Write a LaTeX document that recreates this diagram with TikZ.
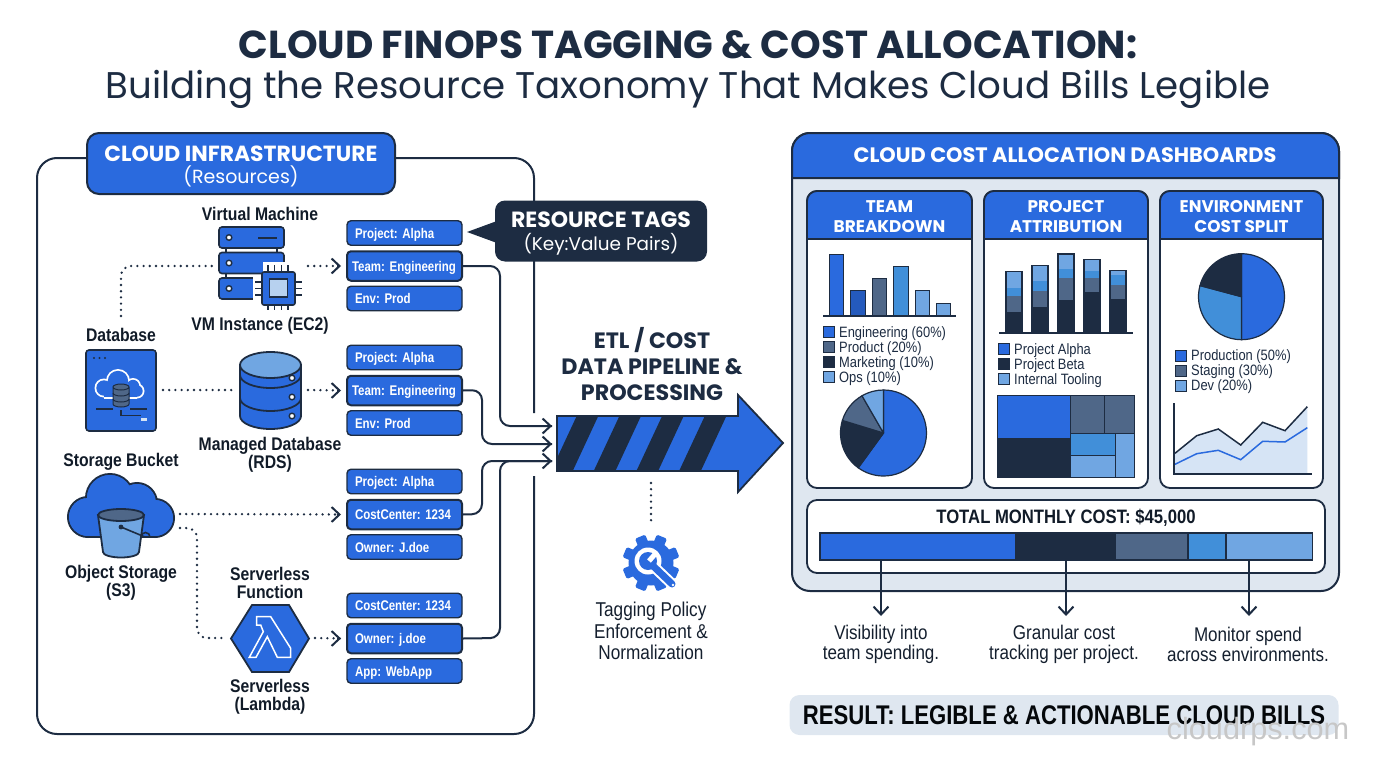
\documentclass[tikz,border=0pt]{standalone}
\usepackage{fontspec}
\usetikzlibrary{arrows.meta,calc}
\setmainfont{Liberation Sans}
\newfontfamily\headfont{Poppins}
\newfontfamily\condfont[FakeStretch=0.86]{Liberation Sans}
\newfontfamily\narrowfont[FakeStretch=0.82]{Liberation Sans}
\newcommand{\fs}[1]{\fontsize{#1}{#1}\selectfont}
\frenchspacing
\definecolor{finblue}{HTML}{2A6ADE}
\definecolor{finnavy}{HTML}{1D2C42}
\definecolor{finslate}{HTML}{4F6788}
\definecolor{finmid}{HTML}{418FD9}
\definecolor{finlight}{HTML}{70A6E2}
\definecolor{finpale}{HTML}{D6E4F5}
\definecolor{finpanel}{HTML}{DFE7F0}
\tikzset{
  tagbox/.style={draw=finnavy,line width=1.4pt,fill=finblue,rounded corners=4pt,text=white,minimum height=24.5pt,
    text width=99pt,inner xsep=8pt,inner ysep=0pt,align=left,text height=10pt,text depth=0pt,font=\narrowfont\bfseries\fs{14}},
  tagmain/.style={tagbox,line width=2pt,minimum height=29.5pt},
  iconlabel/.style={inner sep=0pt,align=center,font=\condfont\bfseries\fs{18.3},text=finnavy!60!black,text depth=0pt},
  bodytext/.style={inner sep=0pt,align=center,font=\condfont\fs{20},text=finnavy!70!black},
  notetext/.style={bodytext,font=\condfont\fs{19.8}},
  legendtext/.style={inner sep=0pt,anchor=west,text height=10.5pt,text depth=0pt,font=\condfont\fs{15},text=finnavy},
  cardhead/.style={inner sep=0pt,align=center,text=white,font=\headfont\bfseries\fs{16.9}},
  dotline/.style={draw=finnavy,line width=2.6pt,line cap=round,dash pattern=on 0pt off 6.2pt},
  dotarrow/.style={dotline,shorten >=6pt},
  chevron/.style={draw=finnavy,line width=2pt},
  flowline/.style={draw=finnavy,line width=2pt,rounded corners=10pt},
  swatch/.style={draw=finnavy,line width=1pt}
}
\begin{document}
\begin{tikzpicture}[x=1pt,y=-1pt]
\useasboundingbox (0,0) rectangle (1376,768);
%Title
\node[inner sep=0pt,text=finnavy,font=\headfont\bfseries\fs{39}] (title) at (688,44.5) {CLOUD FINOPS TAGGING \& COST ALLOCATION:};
\node[inner sep=0pt,text=finnavy,font=\headfont\fs{37.15}] (subtitle) at (688,89) {Building the Resource Taxonomy That Makes Cloud Bills Legible};

%Left panel
\draw[draw=finnavy,line width=2pt,rounded corners=20pt] (534,413) -- (534,158) -- (37,158) -- (37,734) -- (534,734) -- (534,476);
\node[draw=finnavy,line width=2pt,fill=finblue,rounded corners=12pt,minimum width=308pt,minimum height=61pt,inner sep=0pt] (infra) at (241,163.5) {};
\node[inner sep=0pt,text=white,align=center] (infratext) at (241,166.5)
  {{\headfont\bfseries\fs{21.9}CLOUD INFRASTRUCTURE}\\[4pt]{\headfont\fs{19}(Resources)}};

%Tags
\foreach \n/\y/\a/\b/\c in {1/233/Project: Alpha/\mbox{\hspace{-3pt}Team: Engineering}/Env: Prod,2/357.5/Project: Alpha/\mbox{\hspace{-3pt}Team: Engineering}/Env: Prod,
  3/481.5/Project: Alpha/CostCenter: 1234/Owner: J.doe,4/605.5/CostCenter: 1234/Owner: j.doe/App: WebApp}{
  \node[tagbox] (tag\n a) at (404.5,\y) {\a};
  \node[tagmain] (tag\n b) at (404.5,\y+33) {\b};
  \node[tagbox] (tag\n c) at (404.5,\y+65.5) {\c};
}

%Callout
\fill[finnavy] (467,232) -- (497,221) -- (497,243) -- cycle;
\node[fill=finnavy,rounded corners=10pt,minimum width=212pt,minimum height=61pt,inner sep=0pt] (restags) at (601,231) {};
\node[inner sep=0pt,text=white,align=center] (restext) at (601,233.5)
  {{\headfont\bfseries\fs{22}RESOURCE TAGS}\\[4pt]{\headfont\fs{18.4}(Key:Value Pairs)}};

%Virtual machine
\foreach \y in {227,252.5,278}{
  \draw[draw=finnavy,line width=1.6pt,fill=finblue,rounded corners=3pt] (219,\y) rectangle (284,\y+21);
  \draw[draw=finnavy,line width=1.4pt,fill=white] (229,\y+10.5) circle (2.8);
}
\draw[draw=finnavy,line width=1.5pt] (226,248) -- (226,252.5) (277,248) -- (277,252.5) (226,273.5) -- (226,278);
\draw[draw=finnavy,line width=1.6pt] (258,238) -- (277,238);
\fill[white] (263,262) -- (304,262) -- (304,312) -- (253,312) -- (253,276) -- (263,276) -- cycle;
\foreach \d in {0,1,2,3} \draw[draw=finnavy,line width=1.4pt] (268+\d*6.7,265) -- (268+\d*6.7,310);
\foreach \d in {0,1,2} \draw[draw=finnavy,line width=1.4pt] (255,282+\d*6.5) -- (302,282+\d*6.5);
\draw[draw=finnavy,line width=1.6pt,fill=finblue,rounded corners=2pt] (262,272) rectangle (295,305);
\draw[draw=finnavy,line width=1.4pt,fill=finpale!70!finlight] (269.5,279) rectangle (287.5,297);
\coordinate (vmin) at (212,266);
\coordinate (vmout) at (308,266);
\node[iconlabel] (vmname) at (260,214) {Virtual Machine};
\node[iconlabel] (vmtype) at (260,324) {VM Instance (EC2)};

%Database panel
\draw[draw=finnavy,line width=1.6pt,fill=finblue,rounded corners=3pt] (86,350) rectangle (156,431);
\foreach \x in {94,99.5,105} \fill[finnavy] (\x,358) circle (1.1);
\foreach \x/\y/\r in {104/388/9.5,118/381/12,133/386/8,137/391/7.5} \fill[white] (\x,\y) circle (\r);
\fill[white] (104,386) rectangle (137,398.5);
\foreach \x/\y/\r in {104/388/7.7,118/381/10.2,133/386/6.2,137/391/5.7} \fill[finblue] (\x,\y) circle (\r);
\fill[finblue] (104,386) rectangle (137,396.7);
\draw[draw=finnavy,line width=1pt,fill=finslate] (113,387) -- (113,404) arc[x radius=8,y radius=3,start angle=180,end angle=0] -- (129,387) arc[x radius=8,y radius=3,start angle=0,end angle=-360];
\draw[draw=finnavy,line width=1pt] (113,393) arc[x radius=8,y radius=3,start angle=180,end angle=0] (113,399) arc[x radius=8,y radius=3,start angle=180,end angle=0];
\draw[draw=finnavy,line width=1.4pt] (96,409) -- (113,409) (121,410) -- (121,415.5) -- (141,415.5) (130,409) -- (147,409);
\fill[finpale] (141,418) rectangle (147,421);
\coordinate (dbicon) at (121,316);
\coordinate (dbout) at (163,390);
\node[iconlabel] (dbname) at (121,335) {Database};

%Managed database
\draw[draw=finnavy,line width=1.8pt,fill=finblue] (240,365) -- (240,416) arc[x radius=30.5,y radius=13,start angle=180,end angle=0] -- (301,365) -- cycle;
\draw[draw=finnavy,line width=1.8pt] (240,375) arc[x radius=30.5,y radius=13,start angle=180,end angle=0] (240,398) arc[x radius=30.5,y radius=13,start angle=180,end angle=0];
\draw[draw=finnavy,line width=1.8pt,fill=finlight] (270.5,365) ellipse[x radius=30.5,y radius=13];
\foreach \y in {378,397,416} \draw[draw=finnavy,line width=1.4pt,fill=white] (292,\y) circle (2.8);
\coordinate (rdsin) at (232,390);
\coordinate (rdsout) at (308,390);
\node[iconlabel] (rdsname) at (270,444) {Managed Database};
\node[iconlabel] (rdstype) at (270,462) {(RDS)};

%Storage bucket
\foreach \x/\y/\r in {88/517/20,110/498/24,137/503/20,155/518/19} \draw[draw=finnavy,line width=2pt,fill=finblue] (\x,\y) circle (\r);
\draw[draw=finnavy,line width=2pt,fill=finblue] (88,537) -- (155,537) -- (155,510) -- (88,510) -- cycle;
\foreach \x/\y/\r in {88/517/19,110/498/23,137/503/19,155/518/18} \fill[finblue] (\x,\y) circle (\r);
\fill[finblue] (88,505) rectangle (155,536);
\draw[draw=finnavy,line width=1.8pt,fill=finlight] (98,515) -- (103,552) arc[x radius=18,y radius=5.5,start angle=180,end angle=0] -- (144,515) -- cycle;
\draw[draw=finnavy,line width=1.8pt,fill=finslate] (121,515) ellipse[x radius=23,y radius=6];
\draw[draw=finnavy,line width=1.6pt] (121,527) -- (145,537) (141,537) arc[radius=4.5,start angle=180,end angle=360];
\fill[finnavy] (121,527) circle (2.4);
\coordinate (s3out) at (180,514);
\coordinate (s3down) at (180,528);
\node[iconlabel] (s3name) at (121,460) {Storage Bucket};
\node[iconlabel] (s3type) at (121,572) {Object Storage};
\node[iconlabel] (s3abbr) at (121,590) {(S3)};

%Serverless
\draw[draw=finnavy,line width=1.8pt,fill=finblue] (231,638.5) -- (252,605) -- (289,605) -- (309,638.5) -- (289,672) -- (252,672) -- cycle;
\draw[draw=white,line width=1.5pt,line join=miter] (256.7,616.7) -- (270.7,616.7) -- (290.7,648.3) -- (290.7,657.3) -- (277.3,657.3) -- (267.3,636.7) -- (256,657.3) -- (249.3,657.3) -- (263.3,631.7) -- (260.7,625) -- (256.7,625) -- cycle;
\coordinate (fnin) at (226,638);
\coordinate (fnout) at (315,638);
\node[iconlabel] (fntop) at (270,574) {Serverless};
\node[iconlabel] (fnmid) at (270,592) {Function};
\node[iconlabel] (fnlow) at (270,686) {Serverless};
\node[iconlabel] (fnend) at (270,704) {(Lambda)};

%Dotted links
\draw[dotline,rounded corners=10pt] (dbicon) -- (121,266) -- (vmin);
\draw[dotline] (dbout) -- (rdsin);
\draw[dotline,rounded corners=10pt] (s3down) -- (197,528) -- (197,638) -- (fnin);
\foreach \p/\q in {vmout/tag1b,rdsout/tag2b,s3out/tag3b,fnout/tag4b}{
  \draw[dotarrow] (\p) -- (\q.west);
  \draw[chevron,-{Straight Barb[length=8pt,width=15pt]},shorten >=5pt] ($(\q.west)+(-9,0)$) -- (\q.west);
}

%Pipeline arrow
\coordinate (pipe1) at (552,426);
\coordinate (pipe2) at (552,444);
\coordinate (pipe3) at (552,461);
\begin{scope}
  \clip (557,416) -- (738,416) -- (738,395) -- (783,443) -- (738,492) -- (738,471) -- (557,471) -- cycle;
  \fill[finblue] (550,390) rectangle (790,500);
  \foreach \x in {0,42.7,85.4,128.1} \fill[finnavy] (576.7+\x,416) -- (598.3+\x,416) -- (572.7+\x,471) -- (551+\x,471) -- cycle;
\end{scope}
\draw[draw=finnavy,line width=1.8pt,line join=miter] (557,416) -- (738,416) -- (738,395) -- (783,443) -- (738,492) -- (738,471) -- (557,471) -- cycle;
\node[inner sep=0pt,align=center,text=finnavy,font=\headfont\bfseries\fs{22.2}] (etl) at (652,364) {ETL / COST\\[3.4pt]DATA PIPELINE \&\\[3.4pt]PROCESSING};

%Flows into pipeline
\draw[flowline] (tag1b.east) -- (500,266) -- (500,426) -- (pipe1);
\draw[flowline] (tag2b.east) -- (482,390) -- (482,444) -- (pipe2);
\draw[flowline] (tag3b.east) -- (482,514) -- (482,461) -- (pipe3);
\draw[flowline] (tag4b.east) -- (500,638) -- (500,461) -- (pipe3);
\foreach \p in {pipe1,pipe2,pipe3} \draw[chevron,-{Straight Barb[length=8pt,width=15pt]}] ($(\p)+(-12,0)$) -- (\p);

%Policy gear
\coordinate (gear) at (651,563);
\coordinate (pipeout) at (651,483);
\foreach \a in {0,45,...,315} \fill[finblue,rounded corners=1.5pt,rotate around={\a+22.5:(gear)}] (645.5,534.5) rectangle (656.5,548);
\fill[finblue] (gear) circle (22.5);
\fill[white] (648,561) circle (13.5);
\draw[draw=white,line width=11pt,line cap=round] (650,563) -- (672,584);
\fill[finblue] (648,561) circle (9);
\draw[draw=finblue,line width=7pt,line cap=round] (650,563) -- (672,584);
\draw[draw=white,line width=5pt] (649,561) -- (656,553);
\fill[white] (673,585) circle (1.3);
\draw[dotline] (pipeout) -- (651,526);
\node[bodytext] (policy) at (651,631) {Tagging Policy\\[1.5pt]Enforcement \&\\[1.5pt]Normalization};

%Right panel
\draw[draw=finnavy,line width=2pt,fill=finpanel,rounded corners=18pt] (792,133) rectangle (1339,591);
\draw[draw=finnavy,line width=2pt,fill=finblue] (792,178) [rounded corners=18pt] -- (792,133) -- (1339,133) [sharp corners] -- (1339,178) -- cycle;
\node[inner sep=0pt,text=white,font=\headfont\bfseries\fs{20.9}] (dash) at (1065,155) {CLOUD COST ALLOCATION DASHBOARDS};

%Cards
\foreach \l/\r in {807/972,984/1148,1160/1323}{
  \draw[draw=finnavy,line width=1.8pt,fill=white,rounded corners=10pt] (\l,191) rectangle (\r,488);
  \draw[draw=finnavy,line width=1.8pt,fill=finblue] (\l,239) [rounded corners=10pt] -- (\l,191) -- (\r,191) [sharp corners] -- (\r,239) -- cycle;
}
\node[cardhead] (teamhead) at (889.5,216.5) {TEAM\\[2.5pt]BREAKDOWN};
\node[cardhead] (projhead) at (1066,216.5) {PROJECT\\[2.5pt]ATTRIBUTION};
\node[cardhead] (envhead) at (1241.5,216.5) {ENVIRONMENT\\[2.5pt]COST SPLIT};

%Team card
\foreach \x/\t/\c in {829/254/finblue,850.5/290.7/finblue!85!black,872/278.3/finslate,893.5/266/finmid,915/290.7/finlight,936/303.3/finlight}
  \draw[draw=finnavy,line width=1pt,fill=\c] (\x,\t) rectangle (\x+14.7,316);
\draw[draw=finnavy,line width=1.4pt] (823,316) -- (956,316);
\foreach \y/\c/\t in {332/finblue/Engineering (60\%),347/finslate/Product (20\%),362/finnavy/Marketing (10\%),377/finlight/Ops (10\%)}{
  \draw[swatch,fill=\c] (823,\y-5.5) rectangle (834,\y+5.5);
  \node[legendtext] (teamleg\y) at (839,\y) {\t};
}
\foreach \a/\b/\c in {-90/126/finblue,126/197/finnavy,197/240/finslate,240/270/finlight}
  \draw[draw=finnavy,line width=1.2pt,fill=\c,line join=round] (883.5,433) -- ++(\a:43) arc[radius=43,start angle=\a,end angle=\b] -- cycle;

%Project card
\foreach \x/\a/\b/\c/\d in {1006/271.7/288.3/296/311.7,1032/265.7/280.7/291/307.3,1058/254/269.3/278.3/300,1084/259.7/271/278.3/291.7,1110/270.3/275/285/299}{
  \fill[finnavy] (\x,\d) rectangle (\x+16,333);
  \fill[finslate] (\x,\c) rectangle (\x+16,\d);
  \fill[finmid] (\x,\b) rectangle (\x+16,\c);
  \fill[finlight] (\x,\a) rectangle (\x+16,\b);
  \draw[draw=finnavy,line width=1.2pt] (\x,\a) rectangle (\x+16,333);
}
\draw[draw=finnavy,line width=1.4pt] (999,333) -- (1133,333);
\foreach \y/\c/\t in {349/finblue/Project Alpha,364/finnavy/Project Beta,379/finlight/Internal Tooling}{
  \draw[swatch,fill=\c] (998,\y-5.5) rectangle (1009,\y+5.5);
  \node[legendtext] (projleg\y) at (1014,\y) {\t};
}
\foreach \xa/\ya/\xb/\yb/\c in {997/395/1070/438/finblue,997/438/1070/477/finnavy,1070/395/1104/433/finslate,1104/395/1134/433/finslate,
  1070/433/1115/455/finmid,1070/455/1115/477/finlight,1115/433/1134/477/finlight}
  \draw[draw=finnavy,line width=1pt,fill=\c] (\xa,\ya) rectangle (\xb,\yb);

%Environment card
\foreach \a/\b/\c in {-90/90/finblue,90/195/finmid,195/270/finnavy}
  \draw[draw=finnavy,line width=1.2pt,fill=\c,line join=round] (1241.5,296.7) -- ++(\a:43) arc[radius=43,start angle=\a,end angle=\b] -- cycle;
\foreach \n/\y/\c/\t in {a/355.7/finblue/Production (50\%),b/370.7/finslate/Staging (30\%),c/385.7/finlight/Dev (20\%)}{
  \draw[swatch,fill=\c] (1175,\y-5.5) rectangle (1186,\y+5.5);
  \node[legendtext] (envleg\n) at (1191,\y) {\t};
}
\fill[finpale] (1175,453.3) -- (1196.7,435.7) -- (1218.3,429) -- (1240.7,445) -- (1262.7,422.3) -- (1285,430.7) -- (1307.3,406.7) -- (1307.3,474) -- (1175,474) -- cycle;
\draw[draw=finblue,line width=1.5pt] (1175,464.3) -- (1196.7,453.7) -- (1218.3,450.3) -- (1240.7,459.7) -- (1262.7,441.3) -- (1285,442) -- (1307.3,427.7);
\draw[draw=finnavy,line width=1.5pt] (1175,453.3) -- (1196.7,435.7) -- (1218.3,429) -- (1240.7,445) -- (1262.7,422.3) -- (1285,430.7) -- (1307.3,406.7);
\draw[draw=finnavy,line width=1.2pt] (1174,403) -- (1174,474) -- (1312,474);

%Total bar
\draw[draw=finnavy,line width=1.8pt,fill=white,rounded corners=10pt] (807,500) rectangle (1325,573);
\node[inner sep=0pt,text=finnavy!60!black,font=\condfont\bfseries\fs{19.4}] (total) at (1066,518) {TOTAL MONTHLY COST: \$45,000};
\foreach \xa/\xb/\c in {820/1015.5/finblue,1015.5/1115/finnavy,1115/1188/finslate,1188/1226/finmid,1226/1312.5/finlight}
  \draw[draw=finnavy,line width=1.2pt,fill=\c] (\xa,533) rectangle (\xb,560);

%Notes below the bar
\coordinate (bar1) at (881,560);
\coordinate (bar2) at (1066,560);
\coordinate (bar3) at (1249,560);
\node[notetext] (note1) at (881,644.5) {Visibility into\\[0.5pt]team spending.};
\node[notetext] (note2) at (1064,644.5) {Granular cost\\[0.5pt]tracking per project.};
\node[notetext] (note3) at (1248,644.5) {Monitor spend\\[0.5pt]across environments.};
\foreach \b in {bar1,bar2,bar3} \draw[chevron,-{Straight Barb[length=8pt,width=15pt]}] (\b) -- ++(0,56);

%Result
\node[fill=finpanel,rounded corners=10pt,minimum width=549pt,minimum height=40pt,inner sep=0pt,text=black!85!finnavy,font=\narrowfont\bfseries\fs{27}] (result) at (1064,715) {RESULT: LEGIBLE \& ACTIONABLE CLOUD BILLS};
\node[inner sep=0pt,text=black!22,font=\fs{30.7}] (mark) at (1258,732) {cloudrps.com};
\end{tikzpicture}
\end{document}
